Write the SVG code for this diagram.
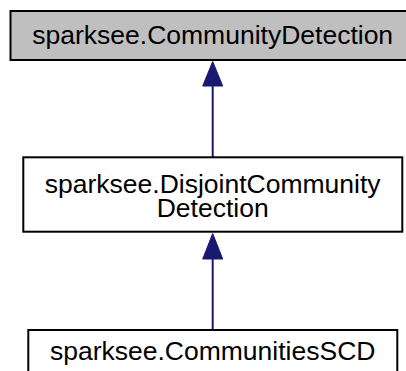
<svg xmlns="http://www.w3.org/2000/svg" width="406" height="371" viewBox="0 0 406 371">
<style>
.box{fill:#ffffff;stroke:#000000;stroke-width:2}
.cur{fill:#bfbfbf}
.lbl{font-family:"Liberation Sans",Arial,Helvetica,sans-serif;font-size:26.5px;fill:#000000;text-anchor:middle}
.edge{stroke:#191970;stroke-width:2;fill:none}
.head{fill:#191970;stroke:#191970;stroke-width:1}
</style>
<rect width="406" height="371" fill="#ffffff"/>
<g id="connectors">
<line class="edge" x1="212.7" y1="85" x2="212.7" y2="157"/>
<polygon class="head" points="212.7,61.5 202.7,86 222.7,86"/>
<line class="edge" x1="212.7" y1="258" x2="212.7" y2="330"/>
<polygon class="head" points="212.7,233.5 202.7,259 222.7,259"/>
</g>
<g id="node-CommunityDetection">
<rect class="box cur" x="10.5" y="11" width="405" height="49"/>
<text class="lbl" x="212.7" y="44">sparksee.CommunityDetection</text>
</g>
<g id="node-DisjointCommunityDetection">
<rect class="box" x="23.3" y="157.3" width="379" height="74.4"/>
<text class="lbl" x="212.7" y="193">sparksee.DisjointCommunity</text>
<text class="lbl" x="212.7" y="217">Detection</text>
</g>
<g id="node-CommunitiesSCD">
<rect class="box" x="28.3" y="330" width="369" height="60"/>
<text class="lbl" x="212.7" y="360">sparksee.CommunitiesSCD</text>
</g>
</svg>
